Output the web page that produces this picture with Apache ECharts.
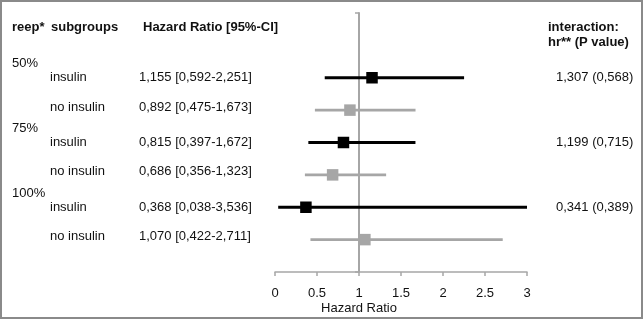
<!DOCTYPE html>
<html>
<head>
<meta charset="utf-8">
<script src="https://cdn.jsdelivr.net/npm/echarts@6/dist/echarts.min.js"></script>
<style>
  html, body { margin: 0; padding: 0; background: #fff; }
  #main { width: 643px; height: 319px; }
</style>
</head>
<body>
<div id="main"></div>
<script>
// data
var reep = ['50%', '75%', '100%'];
var subgroups = ['insulin', 'no insulin', 'insulin', 'no insulin', 'insulin', 'no insulin'];
var hr = [1.155, 0.892, 0.815, 0.686, 0.368, 1.070];
var ciLow = [0.592, 0.475, 0.397, 0.356, 0.038, 0.422];
var ciHigh = [2.251, 1.673, 1.672, 1.323, 3.536, 2.711];
var interHr = [1.307, 1.199, 0.341];
var interP = [0.568, 0.715, 0.389];
var xMin = 0, xMax = 3, xStep = 0.5;
var yMax = 8;

var FONT = '"Liberation Sans", Arial, sans-serif';
var TXT = '#111';

function fmt(v) { return v.toFixed(3).replace('.', ','); }
function rowY(i) { return subgroups.length - i; }   // 6 .. 1 from top

function seriesData(isInsulin) {
  var out = [];
  for (var i = 0; i < subgroups.length; i++) {
    if ((subgroups[i] === 'insulin') === isInsulin) {
      out.push([hr[i], ciLow[i], ciHigh[i], rowY(i)]);
    }
  }
  return out;
}

function renderItem(params, api) {
  var y = api.value(3);
  var lo = api.coord([Math.max(api.value(1), xMin), y]);
  var hi = api.coord([Math.min(api.value(2), xMax), y]);   // clipped at axis end
  var c = api.coord([api.value(0), y]);
  var color = api.visual('color');
  var s = 11.5;
  return {
    type: 'group',
    children: [
      { type: 'line', shape: { x1: lo[0], y1: lo[1], x2: hi[0], y2: hi[1] },
        style: { stroke: color, lineWidth: 2.8 } },
      { type: 'rect', shape: { x: c[0] - s / 2, y: c[1] - s / 2, width: s, height: s },
        style: { fill: color } }
    ]
  };
}

var myChart = echarts.init(document.getElementById('main'));
var option = {
  animation: false,
  backgroundColor: '#fff',
  grid: { left: 275, right: 116, top: 13, bottom: 47 },
  xAxis: {
    type: 'value', min: xMin, max: xMax, interval: xStep,
    splitLine: { show: false },
    axisLine: { show: true, lineStyle: { color: '#a6a6a6', width: 1.5 } },
    axisTick: { show: true, length: 4, lineStyle: { color: '#a6a6a6', width: 1.5 } },
    axisLabel: { color: TXT, fontFamily: FONT, fontSize: 13, margin: 15 }
  },
  yAxis: {
    type: 'value', min: 0, max: yMax, interval: yMax,
    offset: -84,                                        // puts the axis line at x = 1
    splitLine: { show: false },
    axisLine: { show: true, onZero: false, lineStyle: { color: '#a6a6a6', width: 2 } },
    axisTick: { show: true, length: 4, lineStyle: { color: '#a6a6a6', width: 1.5 } },
    axisLabel: { show: false }
  },
  series: [
    { name: 'insulin', type: 'custom', renderItem: renderItem, color: '#000',
      encode: { x: 0, y: 3 }, data: seriesData(true), z: 3 },
    { name: 'no insulin', type: 'custom', renderItem: renderItem, color: '#a6a6a6',
      encode: { x: 0, y: 3 }, data: seriesData(false), z: 3 }
  ]
};
myChart.setOption(option);

// table text next to the plot, placed on the rows of the y axis
function txt(text, x, y, opt) {
  opt = opt || {};
  var al = opt.align || 'left';
  return {
    type: 'text', silent: true,
    style: {
      text: text, x: x, y: y,
      font: (opt.bold ? 'bold ' : '') + '13px ' + FONT,
      fill: TXT,
      textAlign: al, align: al,
      textVerticalAlign: 'middle', verticalAlign: 'middle'
    }
  };
}

var els = [];
els.push({
  type: 'rect', silent: true,
  shape: { x: 1, y: 1, width: 641, height: 317 },
  style: { fill: 'none', stroke: '#8a8a8a', lineWidth: 2 }
});
els.push(txt('reep*', 12, 27, { bold: true }));
els.push(txt('subgroups', 51, 27, { bold: true }));
els.push(txt('Hazard Ratio [95%-CI]', 143, 27, { bold: true }));
els.push(txt('interaction:', 548, 27, { bold: true }));
els.push(txt('hr** (P value)', 548, 42, { bold: true }));

for (var i = 0; i < subgroups.length; i++) {
  var py = myChart.convertToPixel({ gridIndex: 0 }, [0, rowY(i)])[1];
  var dy = subgroups[i] === 'insulin' ? 0 : -3;
  els.push(txt(subgroups[i], 50, py + dy));
  els.push(txt(fmt(hr[i]) + ' [' + fmt(ciLow[i]) + '-' + fmt(ciHigh[i]) + ']', 139, py + dy));
  if (i % 2 === 0) {
    var g = i / 2;
    els.push(txt(reep[g], 12, py - 14));
    els.push(txt(fmt(interHr[g]) + ' (' + fmt(interP[g]) + ')', 556, py));
  }
}
var mid = myChart.convertToPixel({ gridIndex: 0 }, [1, 0]);
els.push(txt('Hazard Ratio', mid[0], 308, { align: 'center' }));

myChart.setOption({ graphic: { elements: els } });
</script>
</body>
</html>
